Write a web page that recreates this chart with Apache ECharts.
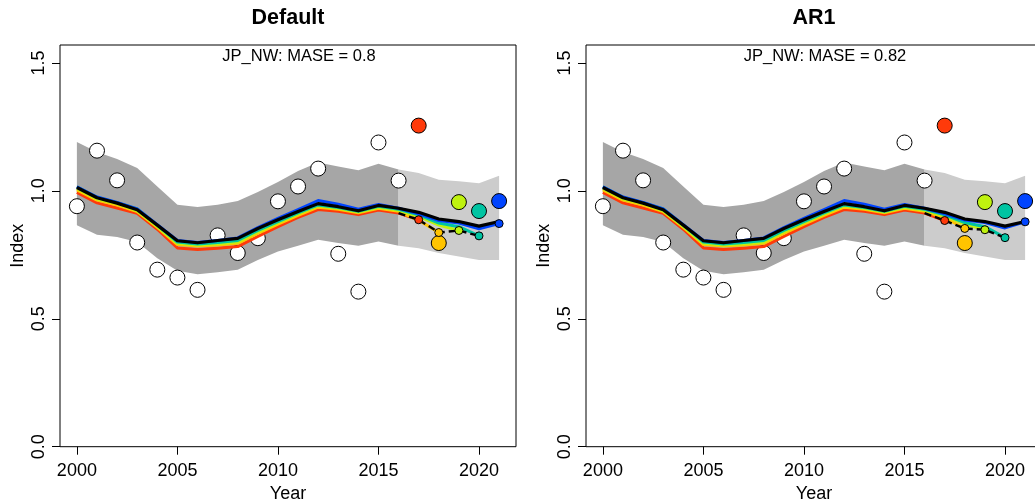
<!DOCTYPE html>
<html>
<head>
<meta charset="utf-8">
<title>Hindcast cross-validation: JP_NW</title>
<script src="https://cdn.jsdelivr.net/npm/echarts@6/dist/echarts.min.js"></script>
<style>
  html, body { margin: 0; padding: 0; background: #fff; }
  #chart { width: 1035px; height: 502px; }
</style>
</head>
<body>
<div id="chart"></div>
<script>
// ---- data ---------------------------------------------------------------
const years = [2000, 2001, 2002, 2003, 2004, 2005, 2006, 2007, 2008, 2009, 2010,
               2011, 2012, 2013, 2014, 2015, 2016, 2017, 2018, 2019, 2020, 2021];

// observed index
const obsIndex = [0.940, 1.157, 1.041, 0.798, 0.692, 0.661, 0.613, 0.826, 0.757, 0.815, 0.959,
                  1.017, 1.087, 0.754, 0.606, 1.189, 1.040, 1.255, 0.796, 0.956, 0.921, 0.960];

// reference run confidence interval
const ciUpper = [1.191, 1.152, 1.124, 1.089, 1.017, 0.946, 0.937, 0.946, 0.960, 0.995, 1.035,
                 1.078, 1.111, 1.095, 1.080, 1.106, 1.083, 1.070, 1.043, 1.037, 1.030, 1.059];
const ciLower = [0.866, 0.828, 0.820, 0.800, 0.737, 0.688, 0.674, 0.682, 0.692, 0.730, 0.763,
                 0.785, 0.809, 0.796, 0.785, 0.802, 0.785, 0.776, 0.757, 0.743, 0.730, 0.730];

// reference run fit
const refFit = [1.013, 0.973, 0.952, 0.926, 0.866, 0.805, 0.797, 0.806, 0.814, 0.853, 0.887,
                0.919, 0.950, 0.938, 0.922, 0.943, 0.932, 0.916, 0.890, 0.880, 0.862, 0.880];

// hold-out years and their colours
const peelYears  = [2017, 2018, 2019, 2020, 2021];
const peelColors = ['#FF3A0A', '#FFC400', '#BFF20F', '#00C4A2', '#0044FF'];

// retrospective peels, Default model (each runs 2000 .. its hold-out year)
const defRed  = [0.994, 0.953, 0.933, 0.912, 0.850, 0.777, 0.771, 0.776, 0.782, 0.822, 0.860,
                 0.896, 0.927, 0.920, 0.907, 0.925, 0.913, 0.887];
const defGold = [1.004, 0.964, 0.944, 0.919, 0.857, 0.790, 0.784, 0.788, 0.795, 0.834, 0.870,
                 0.904, 0.936, 0.928, 0.914, 0.932, 0.920, 0.885, 0.837];
const defLime = [1.009, 0.968, 0.950, 0.922, 0.860, 0.795, 0.788, 0.793, 0.800, 0.840, 0.876,
                 0.910, 0.942, 0.932, 0.917, 0.936, 0.924, 0.900, 0.866, 0.845];
const defTeal = [1.016, 0.975, 0.954, 0.929, 0.866, 0.800, 0.792, 0.798, 0.806, 0.845, 0.880,
                 0.914, 0.945, 0.935, 0.920, 0.940, 0.928, 0.906, 0.874, 0.860, 0.824];
const defBlue = [1.016, 0.976, 0.955, 0.929, 0.868, 0.806, 0.798, 0.806, 0.816, 0.856, 0.892,
                 0.927, 0.962, 0.948, 0.928, 0.947, 0.932, 0.910, 0.884, 0.874, 0.852, 0.872];
// one-step-ahead predictions, Default (2016 anchor, then 2017..2020)
const defPredYears = [2016, 2017, 2018, 2019, 2020];
const defPred      = [0.913, 0.887, 0.837, 0.845, 0.824];

// retrospective peels, AR1 model
const arRed  = [0.994, 0.953, 0.933, 0.912, 0.850, 0.777, 0.771, 0.776, 0.782, 0.822, 0.860,
                0.896, 0.927, 0.920, 0.907, 0.925, 0.913, 0.884];
const arGold = [1.004, 0.964, 0.944, 0.919, 0.857, 0.790, 0.784, 0.788, 0.795, 0.834, 0.870,
                0.904, 0.936, 0.928, 0.914, 0.932, 0.920, 0.895, 0.853];
const arLime = [1.009, 0.968, 0.950, 0.922, 0.860, 0.795, 0.788, 0.793, 0.800, 0.840, 0.876,
                0.910, 0.942, 0.932, 0.917, 0.936, 0.924, 0.902, 0.870, 0.848];
const arTeal = [1.016, 0.975, 0.954, 0.929, 0.866, 0.800, 0.792, 0.798, 0.806, 0.845, 0.880,
                0.914, 0.945, 0.935, 0.920, 0.940, 0.928, 0.906, 0.876, 0.860, 0.817];
const arBlue = [1.016, 0.976, 0.955, 0.929, 0.868, 0.806, 0.798, 0.806, 0.816, 0.856, 0.892,
                0.927, 0.962, 0.948, 0.928, 0.947, 0.932, 0.910, 0.886, 0.876, 0.855, 0.879];
const arPredYears = [2016, 2017, 2018, 2019, 2020];
const arPred      = [0.913, 0.884, 0.853, 0.848, 0.817];

const panelTitles = ['Default', 'AR1'];
const maseLabels  = ['JP_NW: MASE = 0.8', 'JP_NW: MASE = 0.82'];
const xTicks = [2000, 2005, 2010, 2015, 2020];
const yTicks = [0, 0.5, 1.0, 1.5];
const lastFitYear = 2016;

// ---- helpers ------------------------------------------------------------
const FONT = '"Liberation Sans", Arial, Helvetica, sans-serif';
const pairs = (xs, ys) => ys.map((v, i) => [xs[i], v]);

function bandSeries(idx, fromYear, toYear, fill) {
  const sel = years.map((y, i) => i).filter(i => years[i] >= fromYear && years[i] <= toYear);
  return {
    type: 'custom', xAxisIndex: idx, yAxisIndex: idx, silent: true, z: 1,
    data: [[fromYear, ciUpper[sel[0]]]],
    renderItem(params, api) {
      const pts = [];
      sel.forEach(i => pts.push(api.coord([years[i], ciUpper[i]])));
      sel.slice().reverse().forEach(i => pts.push(api.coord([years[i], ciLower[i]])));
      return { type: 'polygon', shape: { points: pts }, style: { fill: fill, stroke: null } };
    }
  };
}

function lineSeries(idx, data, color, width, z, dashed) {
  return {
    type: 'line', xAxisIndex: idx, yAxisIndex: idx, data: data,
    symbol: 'none', silent: true, z: z, animation: false,
    lineStyle: { color: color, width: width, type: dashed ? [7, 4] : 'solid', cap: 'butt', join: 'round' }
  };
}

function dotSeries(idx, data, color, size, z) {
  return {
    type: 'scatter', xAxisIndex: idx, yAxisIndex: idx, data: data, silent: true, z: z,
    symbol: 'circle', symbolSize: size,
    itemStyle: { color: color, borderColor: '#000', borderWidth: 1, opacity: 1 }
  };
}

function panelSeries(idx, peels, predYears, preds) {
  const s = [];
  s.push(bandSeries(idx, 2000, lastFitYear, '#A6A6A6'));
  s.push(bandSeries(idx, lastFitYear, 2021, '#CCCCCC'));
  // observations used in every fit
  const fitYearsIdx = years.map((y, i) => i).filter(i => years[i] <= lastFitYear);
  s.push(dotSeries(idx, fitYearsIdx.map(i => [years[i], obsIndex[i]]), '#FFFFFF', 15, 3));
  // retrospective fits
  peels.forEach((p, k) => {
    s.push(lineSeries(idx, pairs(years, p), peelColors[k], 3, 4 + k * 0.01));
  });
  // reference fit
  s.push(lineSeries(idx, pairs(years, refFit), '#000000', 3.2, 5));
  // prediction path
  s.push(lineSeries(idx, pairs(predYears, preds), '#000000', 2.4, 6, true));
  // hold-out observations
  peelYears.forEach((y, k) => {
    const i = years.indexOf(y);
    s.push(dotSeries(idx, [[y, obsIndex[i]]], peelColors[k], 15, 7));
  });
  // one-step-ahead predicted points at the end of each peel
  peels.forEach((p, k) => {
    s.push(dotSeries(idx, [[peelYears[k], p[p.length - 1]]], peelColors[k], 8, 8));
  });
  return s;
}

// ---- layout -------------------------------------------------------------
const gridLefts = [60, 586];
const gridTop = 45, gridW = 456, gridH = 401.7;

// fixed panel boxes; the second one runs past the right edge of the canvas
const grids = gridLefts.map(l => ({
  left: l, top: gridTop, width: gridW, height: gridH,
  outerBoundsMode: 'none', containLabel: false,
  show: true, borderColor: '#000', borderWidth: 1, backgroundColor: 'transparent'
}));

const xAxes = gridLefts.map((l, i) => ({
  type: 'value', gridIndex: i, min: 1999.16, max: 2021.84,
  axisLine: { show: false },
  axisTick: { show: true, length: 8, inside: false, customValues: xTicks,
              lineStyle: { color: '#000', width: 1 } },
  axisLabel: { customValues: xTicks, color: '#000', fontSize: 18, fontFamily: FONT, margin: 15,
               formatter: v => String(Math.round(v)) },
  splitLine: { show: false },
  name: 'Year', nameLocation: 'middle', nameGap: 38,
  nameTextStyle: { color: '#000', fontSize: 18, fontFamily: FONT }
}));

const yAxes = gridLefts.map((l, i) => ({
  type: 'value', gridIndex: i, min: 0, max: 1.57,
  axisLine: { show: false },
  axisTick: { show: true, length: 8, inside: false, customValues: yTicks,
              lineStyle: { color: '#000', width: 1 } },
  axisLabel: { customValues: yTicks, color: '#000', fontSize: 18, fontFamily: FONT,
               rotate: 90, margin: 12, formatter: v => Number(v).toFixed(1) },
  splitLine: { show: false },
  name: 'Index', nameLocation: 'middle', nameGap: 33, nameRotate: 90,
  nameTextStyle: { color: '#000', fontSize: 18, fontFamily: FONT }
}));

const texts = [];
gridLefts.forEach((l, i) => {
  texts.push({
    type: 'text', x: l + gridW / 2, y: 18, silent: true,
    style: { text: panelTitles[i], fill: '#000', font: 'bold 21.5px ' + FONT,
             align: 'center', verticalAlign: 'middle' }
  });
  texts.push({
    type: 'text', x: l + gridW / 2 + 11, y: 56, silent: true, z: 20,
    style: { text: maseLabels[i], fill: '#000', font: '16.5px ' + FONT,
             align: 'center', verticalAlign: 'middle' }
  });
});

const chart = echarts.init(document.getElementById('chart'), null, { renderer: 'canvas' });
chart.setOption({
  animation: false,
  backgroundColor: '#fff',
  grid: grids,
  xAxis: xAxes,
  yAxis: yAxes,
  graphic: texts,
  series: [
    ...panelSeries(0, [defRed, defGold, defLime, defTeal, defBlue], defPredYears, defPred),
    ...panelSeries(1, [arRed, arGold, arLime, arTeal, arBlue], arPredYears, arPred)
  ]
});
</script>
</body>
</html>
